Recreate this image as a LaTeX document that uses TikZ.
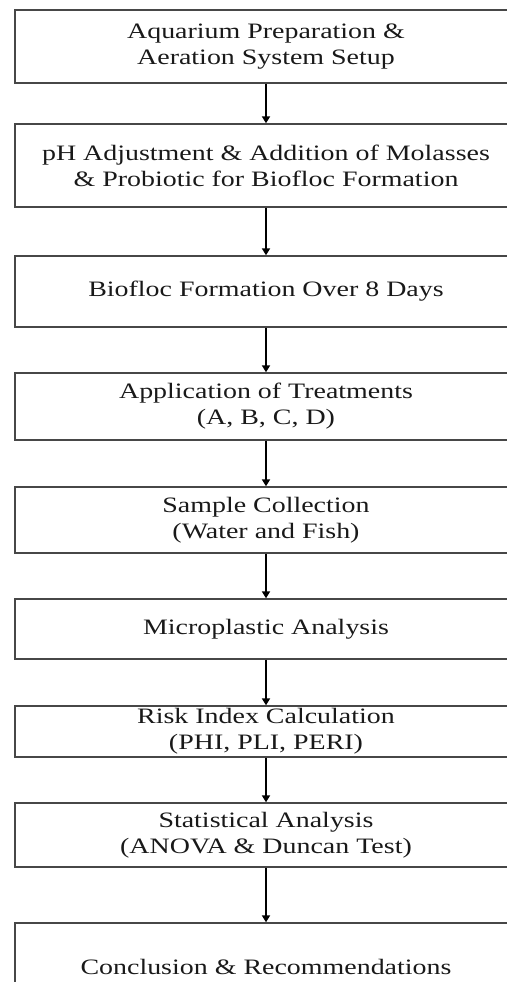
\documentclass[tikz,border=0pt]{standalone}
\usepackage{fontspec}
\setmainfont{Liberation Serif}[FakeStretch=1.27]
\usetikzlibrary{arrows.meta}
\begin{document}
\begin{tikzpicture}[x=1pt,y=1pt,
  box/.style={draw=black!72, line width=1.4pt, minimum width=502pt, inner sep=0pt,
    align=center, font=\fontsize{22}{26}\selectfont, text=black!90},
  arr/.style={-{Triangle[length=7pt,width=8pt]}, line width=2.6pt, black}]
\useasboundingbox (0,0) rectangle (506,-982);
\node[box, minimum height=73pt] (b1) at (266,-46.5) {Aquarium Preparation \&\\Aeration System Setup};
\node[box, minimum height=83pt] (b2) at (266,-165.5) {pH Adjustment \& Addition of Molasses\\\& Probiotic for Biofloc Formation};
\node[box, minimum height=71pt] (b3) at (266,-291.5) {Biofloc Formation Over 8 Days};
\node[box, minimum height=67pt] (b4) at (266,-406.5) {Application of Treatments\\(A, B, C, D)};
\node[box, minimum height=66pt] (b5) at (266,-520) {Sample Collection\\(Water and Fish)};
\node[box, minimum height=60pt] (b6) at (266,-629) {Microplastic Analysis};
\node[box, minimum height=51pt] (b7) at (266,-731.5) {Risk Index Calculation\\(PHI, PLI, PERI)};
\node[box, minimum height=64pt] (b8) at (266,-835) {Statistical Analysis\\(ANOVA \& Duncan Test)};
\node[box, minimum height=88pt] (b9) at (266,-967) {Conclusion \& Recommendations};
\draw[arr] (b1.south) -- (b2.north);
\draw[arr] (b2.south) -- (b3.north);
\draw[arr] (b3.south) -- (b4.north);
\draw[arr] (b4.south) -- (b5.north);
\draw[arr] (b5.south) -- (b6.north);
\draw[arr] (b6.south) -- (b7.north);
\draw[arr] (b7.south) -- (b8.north);
\draw[arr] (b8.south) -- (b9.north);
\end{tikzpicture}
\end{document}
